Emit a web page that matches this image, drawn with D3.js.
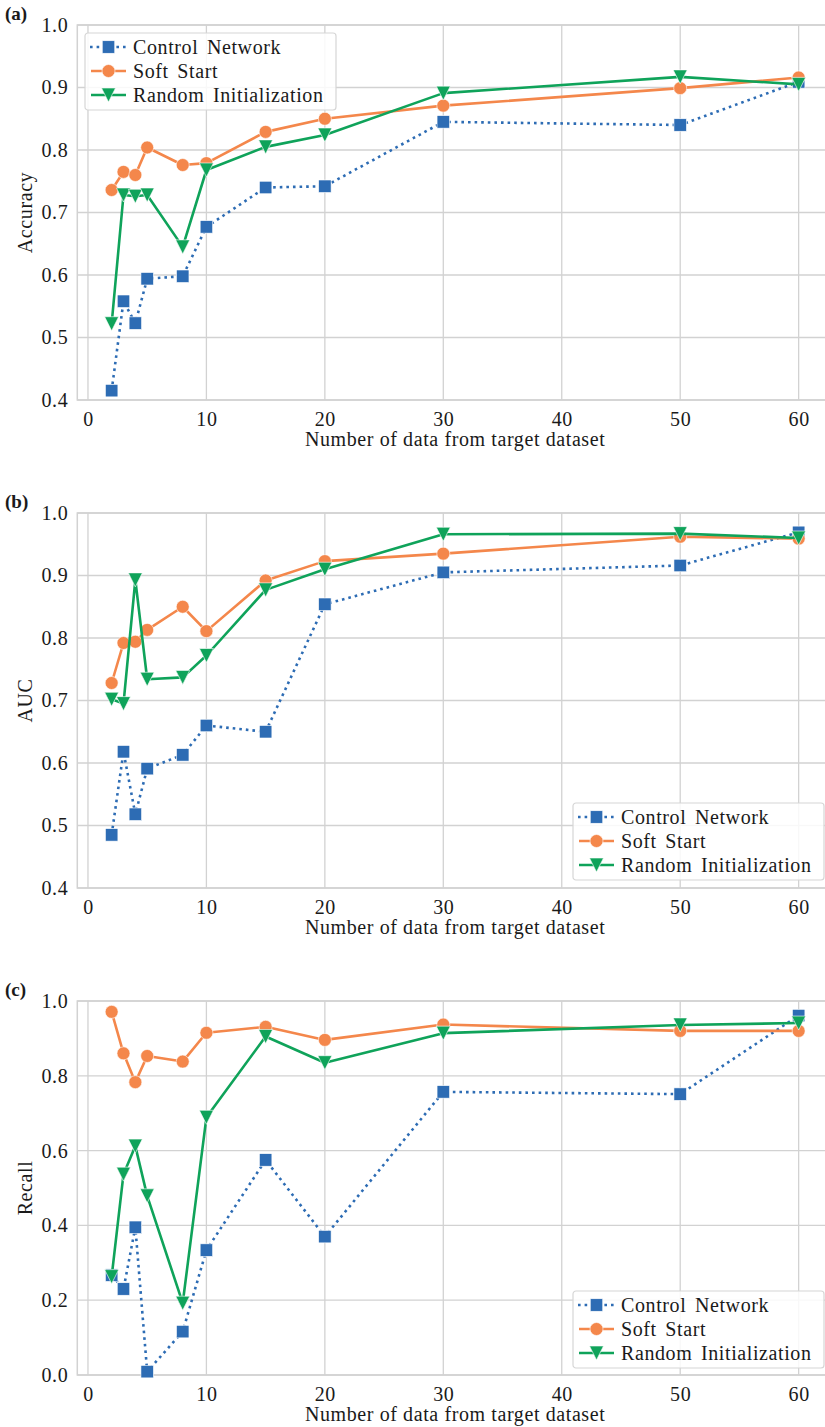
<!DOCTYPE html>
<html>
<head>
<meta charset="utf-8">
<script src="https://cdn.jsdelivr.net/npm/d3@7/dist/d3.min.js"></script>
<style>
  html, body { margin: 0; padding: 0; background: #ffffff; }
  svg { display: block; }
  text { font-family: "Liberation Serif", "Times New Roman", serif; fill: #1a1a1a; }
</style>
</head>
<body>
<div id="chart"></div>
<script>
// ---------------- data ----------------
const xValues = [2, 3, 4, 5, 8, 10, 15, 20, 30, 50, 60];
const seriesNames = ["Control Network", "Soft Start", "Random Initialization"];

const accControl = [0.415, 0.558, 0.523, 0.594, 0.598, 0.677, 0.740, 0.742, 0.845, 0.840, 0.909];
const accSoft    = [0.736, 0.765, 0.760, 0.804, 0.776, 0.779, 0.829, 0.850, 0.871, 0.899, 0.916];
const accRandom  = [0.522, 0.728, 0.726, 0.728, 0.645, 0.768, 0.805, 0.824, 0.891, 0.917, 0.905];

const aucControl = [0.485, 0.618, 0.518, 0.591, 0.613, 0.660, 0.650, 0.854, 0.905, 0.916, 0.969];
const aucSoft    = [0.728, 0.792, 0.794, 0.813, 0.850, 0.811, 0.892, 0.923, 0.935, 0.962, 0.959];
const aucRandom  = [0.702, 0.695, 0.893, 0.734, 0.737, 0.772, 0.877, 0.910, 0.966, 0.967, 0.960];

const recallControl = [0.267, 0.230, 0.395, 0.009, 0.116, 0.334, 0.575, 0.370, 0.757, 0.751, 0.961];
const recallSoft    = [0.971, 0.860, 0.783, 0.853, 0.838, 0.915, 0.931, 0.896, 0.937, 0.920, 0.920];
const recallRandom  = [0.263, 0.537, 0.612, 0.479, 0.192, 0.689, 0.905, 0.835, 0.914, 0.936, 0.941];

const xTicks = [0, 10, 20, 30, 40, 50, 60];
const yTicksAB = [0.4, 0.5, 0.6, 0.7, 0.8, 0.9, 1.0];
const yTicksC = [0.0, 0.2, 0.4, 0.6, 0.8, 1.0];
const xLabelText = "Number of data from target dataset";

// ---------------- styles ----------------
const W = 825, H = 1427;
const colors = ["#2d6cb4", "#f4874b", "#0fa35a"];
const markers = ["square", "circle", "triangle-down"];
const dashes = ["2.6 4.0", null, null];
const gridColor = "#d2d2d2";
const fontSize = 20;
const letterSp = "0.6px";

const panels = [
  { tag: "(a)", ylabel: "Accuracy", top: 25, bottom: 400, yDomain: [0.4, 1.0], yTicks: yTicksAB, fmt: d3.format(".1f"),
    data: [accControl, accSoft, accRandom], legend: { x: 85, y: 33 } },
  { tag: "(b)", ylabel: "AUC", top: 513, bottom: 888, yDomain: [0.4, 1.0], yTicks: yTicksAB, fmt: d3.format(".1f"),
    data: [aucControl, aucSoft, aucRandom], legend: { x: 573, y: 803 } },
  { tag: "(c)", ylabel: "Recall", top: 1001, bottom: 1375, yDomain: [0.0, 1.0], yTicks: yTicksC, fmt: d3.format(".1f"),
    data: [recallControl, recallSoft, recallRandom], legend: { x: 573, y: 1291 } }
];

const svg = d3.select("#chart").append("svg").attr("width", W).attr("height", H);

const x = d3.scaleLinear().domain([-0.9, 62.9]).range([77.3, 833]);

function drawMarker(g, type, cx, cy, color) {
  if (type === "square") {
    const s = 12.5;
    g.append("rect").attr("x", cx - s / 2).attr("y", cy - s / 2).attr("width", s).attr("height", s)
      .attr("fill", color).attr("stroke", "#ffffff").attr("stroke-width", 0.6);
  } else if (type === "circle") {
    g.append("circle").attr("cx", cx).attr("cy", cy).attr("r", 6.5)
      .attr("fill", color).attr("stroke", "#ffffff").attr("stroke-width", 0.6);
  } else {
    const r = 7;
    g.append("path").attr("d", `M${cx - r},${cy - r}L${cx + r},${cy - r}L${cx},${cy + r}Z`)
      .attr("fill", color).attr("stroke", "#ffffff").attr("stroke-width", 0.6);
  }
}

panels.forEach(p => {
  const y = d3.scaleLinear().domain(p.yDomain).range([p.bottom, p.top]);
  const g = svg.append("g");

  // grid
  g.selectAll(".vg").data(xTicks).enter().append("line")
    .attr("x1", d => x(d)).attr("x2", d => x(d)).attr("y1", p.top).attr("y2", p.bottom)
    .attr("stroke", gridColor).attr("stroke-width", 1.3);
  g.selectAll(".hg").data(p.yTicks).enter().append("line")
    .attr("x1", x.range()[0]).attr("x2", x.range()[1]).attr("y1", d => y(d)).attr("y2", d => y(d))
    .attr("stroke", gridColor).attr("stroke-width", 1.3);

  // frame
  g.append("rect").attr("x", x.range()[0]).attr("y", p.top)
    .attr("width", x.range()[1] - x.range()[0]).attr("height", p.bottom - p.top)
    .attr("fill", "none").attr("stroke", gridColor).attr("stroke-width", 1.5);

  // axes labels via d3 axes (no domain/ticks lines)
  const xAxis = d3.axisBottom(x).tickValues(xTicks).tickSize(0).tickPadding(12).tickFormat(d3.format("d"));
  const xa = g.append("g").attr("transform", `translate(0,${p.bottom})`).call(xAxis);
  xa.select(".domain").remove();
  xa.selectAll("text").attr("font-size", fontSize).style("letter-spacing", letterSp)
    .attr("font-family", '"Liberation Serif", serif').attr("fill", "#1a1a1a");

  const yAxis = d3.axisLeft(y).tickValues(p.yTicks).tickSize(0).tickPadding(9).tickFormat(p.fmt);
  const ya = g.append("g").attr("transform", `translate(${x.range()[0]},0)`).call(yAxis);
  ya.select(".domain").remove();
  ya.selectAll("text").attr("font-size", fontSize).style("letter-spacing", letterSp)
    .attr("font-family", '"Liberation Serif", serif').attr("fill", "#1a1a1a");

  // x label
  g.append("text").attr("x", (x.range()[0] + x.range()[1]) / 2).attr("y", p.bottom + 46)
    .attr("text-anchor", "middle").attr("font-size", fontSize).style("letter-spacing", letterSp)
    .text(xLabelText);
  // y label
  g.append("text").attr("transform", `translate(32,${(p.top + p.bottom) / 2}) rotate(-90)`)
    .attr("text-anchor", "middle").attr("font-size", fontSize).style("letter-spacing", letterSp)
    .text(p.ylabel);
  // panel tag
  g.append("text").attr("x", 5).attr("y", p.top - 5).attr("font-size", 19).attr("font-weight", "bold")
    .text(p.tag);

  // series
  const plot = g.append("g");
  p.data.forEach((vals, i) => {
    const pts = xValues.map((xv, k) => [xv, vals[k]]);
    const line = d3.line().x(d => x(d[0])).y(d => y(d[1]));
    const path = plot.append("path").attr("d", line(pts)).attr("fill", "none")
      .attr("stroke", colors[i]).attr("stroke-width", 2.6).attr("stroke-linejoin", "round");
    if (dashes[i]) path.attr("stroke-dasharray", dashes[i]);
    const mg = plot.append("g");
    pts.forEach(d => drawMarker(mg, markers[i], x(d[0]), y(d[1]), colors[i]));
  });

  // legend
  const lw = 251, lh = 77;
  const lg = g.append("g").attr("transform", `translate(${p.legend.x},${p.legend.y})`);
  lg.append("rect").attr("x", 0).attr("y", 0).attr("width", lw).attr("height", lh).attr("rx", 3)
    .attr("fill", "#ffffff").attr("fill-opacity", 0.85).attr("stroke", "#d6d6d6").attr("stroke-width", 1.2);
  seriesNames.forEach((name, i) => {
    const cy = 14 + i * 24;
    const hl = lg.append("line").attr("x1", 6).attr("x2", 41).attr("y1", cy).attr("y2", cy)
      .attr("stroke", colors[i]).attr("stroke-width", 2.6);
    if (dashes[i]) hl.attr("stroke-dasharray", dashes[i]).attr("x1", 5);
    drawMarker(lg, markers[i], 23.5, cy, colors[i]);
    lg.append("text").attr("x", 48).attr("y", cy + 6.5).attr("font-size", fontSize).style("letter-spacing", letterSp)
      .style("word-spacing", "3px").text(name);
  });
});
</script>
</body>
</html>
